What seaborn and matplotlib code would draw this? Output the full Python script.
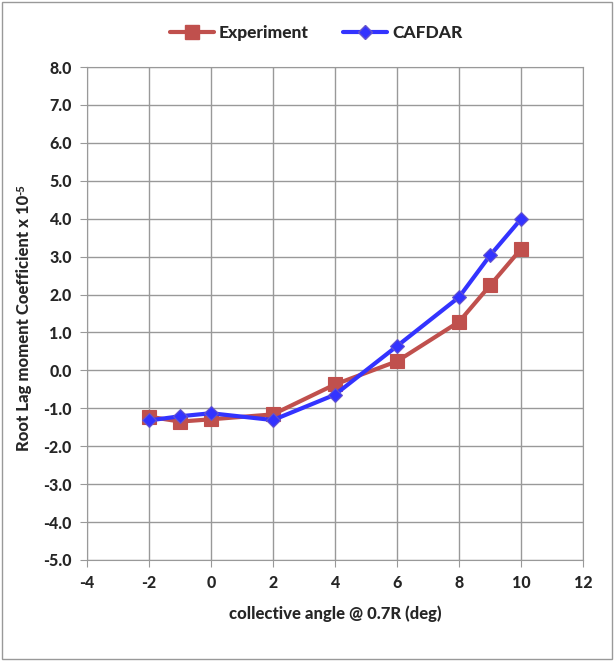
import matplotlib
matplotlib.use("Agg")
import matplotlib.pyplot as plt
import seaborn as sns
import pandas as pd

angles_exp = [-2, -1, 0, 2, 4, 6, 8, 9, 10]
exp_vals = [-1.22, -1.35, -1.29, -1.16, -0.37, 0.24, 1.28, 2.24, 3.20]
angles_caf = [-2, -1, 0, 2, 4, 6, 8, 9, 10]
caf_vals = [-1.32, -1.21, -1.13, -1.31, -0.64, 0.64, 1.93, 3.03, 3.99]
x_ticks = [-4, -2, 0, 2, 4, 6, 8, 10, 12]
y_ticks = [-5, -4, -3, -2, -1, 0, 1, 2, 3, 4, 5, 6, 7, 8]

sns.set_style("white")
plt.rcParams['font.family'] = ['Lato', 'DejaVu Sans']
W = 900

df = pd.concat([
    pd.DataFrame({"angle": angles_exp, "val": exp_vals, "series": "Experiment"}),
    pd.DataFrame({"angle": angles_caf, "val": caf_vals, "series": "CAFDAR"}),
])

fig = plt.figure(figsize=(6.14, 6.61), dpi=100)
ax = fig.add_axes([87/614, 1-560/661, (583-87)/614, (560-67)/661])

sns.lineplot(data=df, x="angle", y="val", hue="series", style="series",
             palette={"Experiment": "#C0504D", "CAFDAR": "#3333FF"},
             markers={"Experiment": "s", "CAFDAR": "D"}, dashes=False,
             linewidth=3, ax=ax, legend=False, sort=False)
for line, ms, mec in zip(ax.lines, [10, 7], ["#C0504D", "#6655CC"]):
    line.set_markersize(ms)
    line.set_markeredgecolor(mec)
    line.set_markeredgewidth(0.8)

ax.set_xlim(-4, 12)
ax.set_ylim(-5, 8)
ax.set_xticks(x_ticks)
ax.set_yticks(y_ticks)
ax.set_xticklabels([str(t) for t in x_ticks], fontweight=W, fontsize=11.5)
ax.set_yticklabels([f"{t:.1f}" for t in y_ticks], fontweight=W, fontsize=11.5)
ax.grid(True, color="#999999", linewidth=1)
for s in ax.spines.values():
    s.set_color("#999999")
ax.tick_params(axis='both', length=5, color="#999999", direction='out', bottom=True, left=True, pad=6)
ax.set_xlabel("collective angle @ 0.7R (deg)", fontweight=W, fontsize=12, labelpad=10)
ax.set_ylabel("Root Lag moment Coefficient x 10", fontweight=W, fontsize=12, labelpad=8)
ax.yaxis.label.set_position((0, 0.48))

from matplotlib.lines import Line2D
handles = [Line2D([], [], color="#C0504D", marker="s", lw=3, ms=10, markeredgecolor="#C0504D"),
           Line2D([], [], color="#3333FF", marker="D", lw=3, ms=7, markeredgecolor="#6655CC")]
fig.legend(handles, ["Experiment", "CAFDAR"], loc="center", bbox_to_anchor=(0.515, 1-33/661),
           ncol=2, frameon=False, prop={'weight': W, 'size': 12.5}, handlelength=2.5,
           columnspacing=2, handletextpad=0.3)

border = plt.Rectangle((0.003, 0.003), 0.994, 0.994, transform=fig.transFigure,
                       fill=False, edgecolor="#999999", linewidth=1)
fig.patches.append(border)

fig.canvas.draw()
# superscript exponent placed at the top end of the rotated y label
bb = ax.yaxis.label.get_window_extent()
inv = fig.transFigure.inverted()
(x0, y0), (x1, y1) = inv.transform([(bb.x0, bb.y0), (bb.x1, bb.y1)])
fig.text(x0 - 0.001, y1 + 0.001, "-5", fontsize=8, fontweight=W, rotation=90,
         ha='left', va='bottom')

fig.savefig("out.png", dpi=100)
